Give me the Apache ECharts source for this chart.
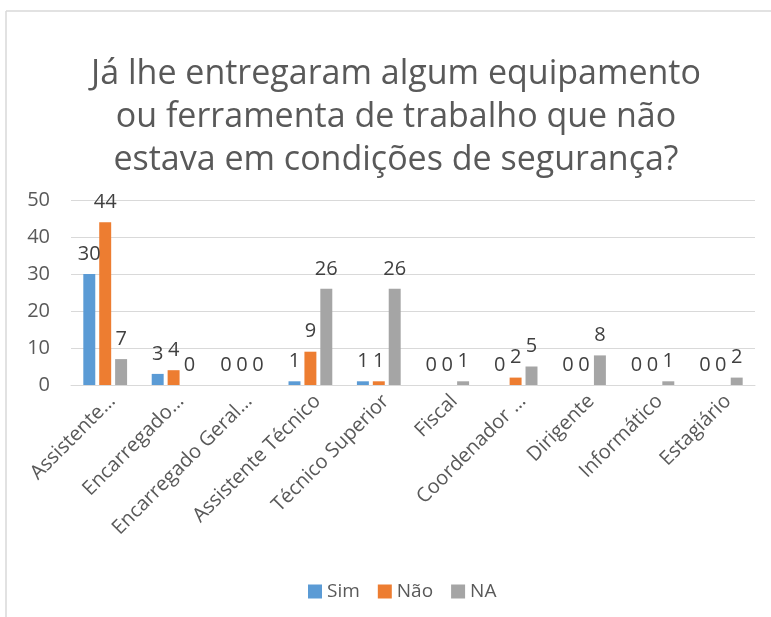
<!DOCTYPE html>
<html>
<head>
<meta charset="utf-8">
<script src="https://cdn.jsdelivr.net/npm/echarts@6/dist/echarts.min.js"></script>
<style>
  html, body { margin: 0; padding: 0; background: #fff; }
  #chart { width: 771px; height: 617px; }
</style>
</head>
<body>
<div id="chart"></div>
<script>
var categorias = ['Assistente…', 'Encarregado…', 'Encarregado Geral…', 'Assistente Técnico', 'Técnico Superior',
    'Fiscal', 'Coordenador …', 'Dirigente', 'Informático', 'Estagiário'];
var sim = [30, 3, 0, 1, 1, 0, 0, 0, 0, 0];
var nao = [44, 4, 0, 9, 1, 0, 2, 0, 0, 0];
var na = [7, 0, 0, 26, 26, 1, 5, 8, 1, 2];
var yTicks = [0, 10, 20, 30, 40, 50];
var titulo = 'Já lhe entregaram algum equipamento\nou ferramenta de trabalho que não\nestava em condições de segurança?';

var fonte = '"Open Sans", "Noto Sans", sans-serif';

function serie(nome, dados, cor) {
    return {
        name: nome,
        type: 'bar',
        data: dados,
        barGap: '33%',
        barCategoryGap: '36%',
        itemStyle: { color: cor },
        label: {
            show: true,
            position: 'top',
            distance: 10,
            color: '#404040',
            fontFamily: fonte,
            fontSize: 20
        }
    };
}

var chart = echarts.init(document.getElementById('chart'));
var option = {
    animation: false,
    legend: {
        bottom: 11,
        left: 303,
        itemWidth: 14,
        itemHeight: 14,
        itemGap: 18,
        icon: 'rect',
        textStyle: { fontFamily: fonte, fontSize: 19, color: '#595959' },
        data: ['Sim', 'Não', 'NA']
    },
    grid: { left: 71, right: 16, top: 200, bottom: 232 },
    xAxis: {
        type: 'category',
        data: categorias,
        axisLine: { lineStyle: { color: '#d9d9d9', width: 1 } },
        axisTick: { show: false },
        axisLabel: {
            rotate: 45,
            interval: 0,
            margin: 6,
            verticalAlign: 'top',
            color: '#595959',
            fontFamily: fonte,
            fontSize: 20
        }
    },
    yAxis: {
        type: 'value',
        min: yTicks[0],
        max: yTicks[yTicks.length - 1],
        interval: 10,
        axisLine: { show: false },
        axisTick: { show: false },
        splitLine: { lineStyle: { color: '#d9d9d9', width: 1 } },
        axisLabel: {
            margin: 21,
            color: '#595959',
            fontFamily: fonte,
            fontSize: 20
        }
    },
    graphic: [
        { type: 'line', shape: { x1: 6, y1: 11, x2: 771, y2: 11 }, style: { stroke: '#d9d9d9', lineWidth: 1.5 } },
        { type: 'line', shape: { x1: 6, y1: 11, x2: 6, y2: 617 }, style: { stroke: '#d9d9d9', lineWidth: 1.5 } },
        {
            type: 'text',
            x: 396,
            y: 53,
            style: {
                text: titulo,
                textAlign: 'center',
                fontFamily: fonte,
                fontSize: 34,
                lineHeight: 43,
                fill: '#595959'
            }
        }
    ],
    series: [
        serie('Sim', sim, '#5b9bd5'),
        serie('Não', nao, '#ed7d31'),
        serie('NA', na, '#a5a5a5')
    ]
};
chart.setOption(option);
</script>
</body>
</html>
